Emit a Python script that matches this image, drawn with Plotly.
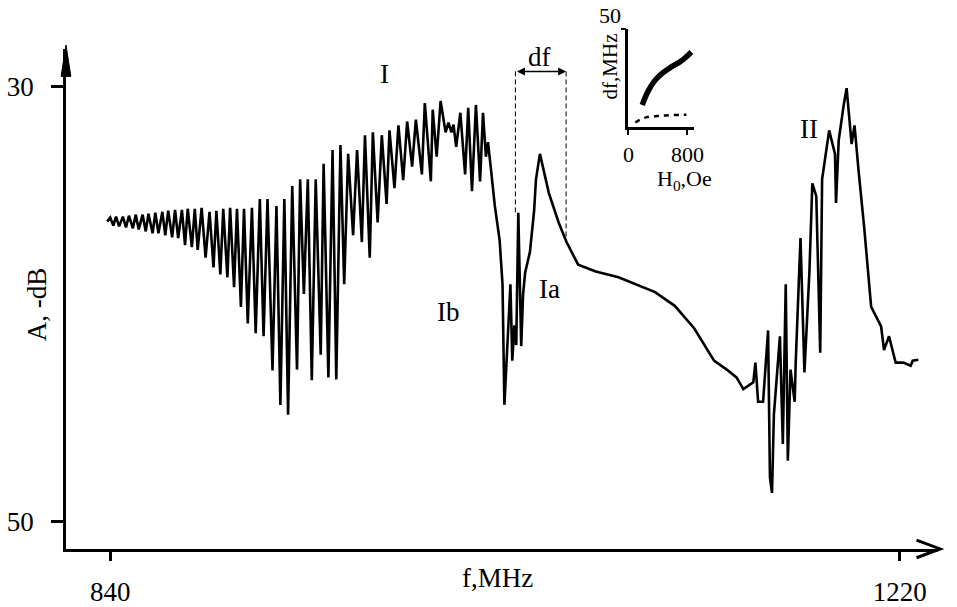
import plotly.graph_objects as go

# ---------------- data ----------------
# Band I ripples (f in MHz, attenuation A in -dB)
band1_freq = [838.5, 840.0, 841.5, 842.8, 844.3, 846.1, 847.6, 849.0, 850.9, 852.3,
              853.7, 855.6, 857.1, 858.4, 860.4, 861.7, 863.2, 865.1, 866.5, 867.9,
              869.8, 871.2, 872.7, 874.5, 876.0, 877.3, 879.3, 880.7, 882.1, 884.0,
              885.9, 887.8, 889.7, 891.1, 893.0, 894.4, 896.4, 897.7, 899.6, 901.0,
              902.9, 904.4, 906.2, 908.2, 910.0, 912.0, 913.8, 915.7, 918.1, 920.0,
              921.9, 923.8, 925.6, 927.6, 929.9, 931.4, 933.2, 935.1, 937.0, 938.9,
              941.3, 942.7, 945.0, 947.0, 948.8, 950.8, 952.6, 954.5, 956.9, 958.8,
              961.1, 962.6, 964.9, 966.4, 968.7, 970.7, 973.0, 974.4, 976.8, 978.7,
              981.0, 982.9, 985.3, 987.1, 990.0, 991.4, 994.3, 995.2, 997.1, 999.0,
              1001.4, 1002.8, 1004.2, 1005.2, 1006.5, 1008.5, 1010.8, 1012.3, 1014.1, 1016.0,
              1018.0, 1019.4, 1020.8]
band1_atten = [36.22, 36.04, 36.40, 35.99, 36.44, 35.99, 36.49, 35.95, 36.53, 35.90,
               36.58, 35.90, 36.67, 35.86, 36.76, 35.81, 36.76, 35.77, 36.85, 35.72,
               36.94, 35.68, 36.98, 35.68, 37.30, 35.63, 37.39, 35.63, 37.52, 35.59,
               37.88, 35.77, 38.33, 35.72, 38.65, 35.63, 38.78, 35.59, 39.23, 35.63,
               40.14, 35.63, 40.90, 35.59, 41.35, 35.18, 41.49, 35.18, 43.06, 35.50,
               44.64, 35.18, 45.09, 34.59, 43.02, 34.28, 39.55, 34.28, 43.51, 34.28,
               42.34, 33.56, 43.38, 32.93, 43.47, 32.70, 39.10, 33.11, 36.85, 32.93,
               37.16, 32.25, 37.88, 32.12, 36.26, 32.25, 35.41, 32.03, 34.68, 31.80,
               34.32, 31.62, 33.69, 31.53, 34.05, 30.77, 34.37, 31.08, 33.24, 30.68,
               32.12, 31.67, 32.12, 31.76, 32.79, 31.22, 34.05, 30.99, 34.82, 30.86,
               34.37, 31.22, 33.24]

# Ib / Ia region
bandIa_freq = [1021.8, 1023.1, 1025.1, 1027.4, 1028.8, 1029.7, 1031.2, 1032.6, 1033.5, 1034.5,
               1035.4, 1036.4, 1037.8, 1038.7, 1039.7, 1042.0, 1044.0, 1044.9, 1046.8, 1048.7,
               1051.1, 1055.8, 1059.6, 1065.2, 1073.7, 1084.6, 1092.7]
bandIa_atten = [32.57, 33.69, 35.50, 37.07, 39.10, 44.64, 41.67, 39.10, 42.61, 40.99,
                41.89, 35.81, 41.94, 39.55, 38.56, 37.61, 35.72, 34.28, 33.11, 33.92,
                34.91, 36.26, 37.16, 38.20, 38.51, 38.78, 39.10]

# Band II and tail
band2_freq = [1102.2, 1111.7, 1121.1, 1130.6, 1136.7, 1141.4, 1144.7, 1149.5, 1150.5, 1151.8,
              1154.2, 1156.6, 1157.5, 1158.5, 1159.4, 1162.3, 1163.7, 1165.1, 1166.1, 1167.4,
              1169.4, 1169.9, 1172.2, 1174.1, 1176.5, 1177.9, 1179.8, 1181.7, 1182.6, 1186.0,
              1188.8, 1189.3, 1190.6, 1193.0, 1194.4, 1196.8, 1198.2, 1200.1, 1202.9, 1206.2,
              1211.0, 1212.4, 1214.8, 1218.0, 1221.7, 1225.2, 1226.2, 1228.9]
band2_atten = [39.46, 40.09, 41.13, 42.61, 43.02, 43.38, 43.92, 43.60, 42.70, 44.50,
               44.50, 41.22, 47.97, 48.69, 45.09, 41.49, 46.44, 39.10, 47.21, 43.02,
               44.50, 42.70, 36.98, 43.15, 38.51, 34.46, 35.05, 42.25, 34.28, 32.03,
               33.11, 35.36, 32.48, 30.86, 30.09, 32.66, 31.80, 33.83, 36.53, 40.14,
               41.04, 42.12, 41.49, 42.70, 42.70, 42.84, 42.61, 42.57]

# df markers (MHz) and their lower ends (-dB)
df_left, df_right = 1035.0, 1059.4
df_top = 29.32
df_left_bottom, df_right_bottom = 35.95, 36.98

# main axis ticks
x_ticks = [840, 1220]
y_ticks = [30, 50]

# inset: df vs H0
inset_solid_H = [187, 267, 360, 453, 587, 720, 853]
inset_solid_df = [11.5, 18.5, 24.0, 27.5, 31.0, 34.0, 38.5]
inset_dash_H = [93, 227, 453, 787]
inset_dash_df = [2.5, 5.0, 6.0, 6.5]
inset_x_ticks = [0, 800]

# ---------------- figure ----------------
W, H = 957, 607
SERIF = "Liberation Serif"


def PX(x):
    return x / W


def PY(y):
    return 1 - y / H


freq = band1_freq + bandIa_freq + band2_freq
atten = band1_atten + bandIa_atten + band2_atten

fig = go.Figure()
fig.add_trace(go.Scatter(x=freq, y=atten, mode="lines",
                         line=dict(color="black", width=2.6),
                         showlegend=False, hoverinfo="skip"))
fig.add_trace(go.Scatter(x=inset_solid_H, y=inset_solid_df, mode="lines",
                         line=dict(color="black", width=5.5, shape="spline"),
                         xaxis="x2", yaxis="y2", showlegend=False, hoverinfo="skip"))
fig.add_trace(go.Scatter(x=inset_dash_H, y=inset_dash_df, mode="lines",
                         line=dict(color="black", width=2.5, dash="5px,5px", shape="spline"),
                         xaxis="x2", yaxis="y2", showlegend=False, hoverinfo="skip"))

fig.update_layout(
    width=W, height=H,
    margin=dict(l=0, r=0, t=0, b=0),
    paper_bgcolor="white", plot_bgcolor="rgba(0,0,0,0)",
    font=dict(family=SERIF, color="black"),
    xaxis=dict(domain=[PX(61), PX(948)], range=[818.71, 1238.45],
               showline=True, linecolor="black", linewidth=2.5,
               ticks="outside", ticklen=9, tickwidth=2.5, tickcolor="black",
               tickvals=x_ticks, ticktext=[str(v) for v in x_ticks],
               tickfont=dict(family=SERIF, size=27, color="black"),
               ticklabelstandoff=8,
               showgrid=False, zeroline=False, fixedrange=True, anchor="y"),
    yaxis=dict(domain=[PY(560), PY(50)], range=[51.26, 28.29],
               showline=True, linecolor="black", linewidth=2.5,
               ticks="outside", ticklen=12, tickwidth=2.5, tickcolor="black",
               tickvals=y_ticks, ticktext=[str(v) for v in y_ticks],
               tickfont=dict(family=SERIF, size=27, color="black"),
               ticklabelstandoff=12,
               showgrid=False, zeroline=False, fixedrange=True, anchor="x"),
    xaxis2=dict(domain=[PX(633), PX(700)], range=[0, 893], anchor="y2",
                showline=True, linecolor="black", linewidth=2.5,
                ticks="outside", ticklen=5, tickwidth=2, tickcolor="black",
                tickvals=inset_x_ticks, ticktext=[str(v) for v in inset_x_ticks],
                tickfont=dict(family=SERIF, size=22, color="black"),
                ticklabelstandoff=0,
                showgrid=False, zeroline=False, fixedrange=True),
    yaxis2=dict(domain=[PY(130), PY(30)], range=[0, 50], anchor="x2",
                showline=True, linecolor="black", linewidth=2.5,
                ticks="outside", ticklen=5, tickwidth=2, tickcolor="black",
                tickvals=[50], showticklabels=False,
                showgrid=False, zeroline=False, fixedrange=True),
)

shapes = []
# y-axis arrow head (filled)
shapes.append(dict(type="path", xref="paper", yref="paper",
                   path=f"M {PX(61)},{PY(46)} L {PX(56)},{PY(78)} L {PX(66)},{PY(78)} Z",
                   fillcolor="black", line=dict(color="black", width=1)))
# x-axis arrow head (open chevron)
shapes.append(dict(type="path", xref="paper", yref="paper",
                   path=f"M {PX(926)},{PY(551)} L {PX(950)},{PY(560)} L {PX(926)},{PY(569)}",
                   line=dict(color="black", width=3)))
# df dashed guides
shapes.append(dict(type="line", xref="x", yref="y", x0=df_left, x1=df_left,
                   y0=df_top, y1=df_left_bottom, line=dict(color="black", width=1, dash="5px,3px")))
shapes.append(dict(type="line", xref="x", yref="y", x0=df_right, x1=df_right,
                   y0=df_top, y1=df_right_bottom, line=dict(color="black", width=1, dash="5px,3px")))
fig.update_layout(shapes=shapes)

ann = []


def txt(x, y, t, size=27, angle=0):
    ann.append(dict(x=PX(x), y=PY(y), xref="paper", yref="paper", text=t, showarrow=False,
                    font=dict(family=SERIF, size=size, color="black"), textangle=angle,
                    xanchor="center", yanchor="middle"))


txt(31, 310, "A, -dB", angle=-90)
txt(500, 590, "f,MHz")
txt(385, 75, "I")
txt(817, 132, "II")
txt(450, 318, "Ib")
txt(553, 295, "Ia")
txt(543, 58, "df")
txt(614, 16, "50", size=22)
txt(614, 68, "df,MHz", size=21, angle=-90)
txt(690, 184, "H<sub>0</sub>,Oe", size=22)

# df double arrow
ann.append(dict(x=df_right, y=df_top, ax=df_left, ay=df_top, xref="x", yref="y",
                axref="x", ayref="y", text="", showarrow=True, arrowhead=2,
                arrowside="end+start", arrowsize=1, arrowwidth=1.6, arrowcolor="black"))
fig.update_layout(annotations=ann)

fig.write_html("out.html")
